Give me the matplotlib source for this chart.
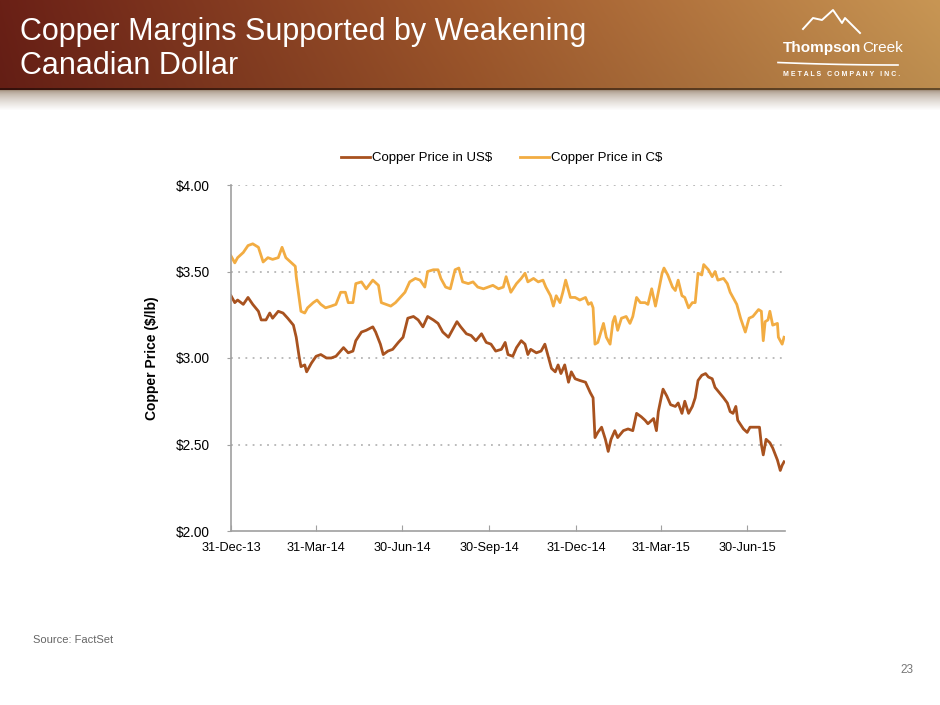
import matplotlib
matplotlib.use('Agg')
import matplotlib.pyplot as plt
import matplotlib.dates as mdates
import numpy as np
import pandas as pd

plt.rcParams['font.family'] = ['Liberation Sans', 'DejaVu Sans']

# days since 31-Dec-13
us_days = [0, 4, 7, 13, 18, 23, 29, 32, 37, 41, 44, 50, 55, 60, 66, 69, 72, 74, 78, 80,
           85, 90, 95, 101, 106, 111, 119, 124, 129, 132, 138, 143, 150, 153, 158, 161, 166,
           171, 177, 182, 187, 193, 198, 203, 208, 214, 219, 224, 230, 235, 239, 243, 249,
           254, 259, 265, 270, 275, 280, 286, 290, 293, 298, 302, 307, 311, 314, 317, 323,
           328, 332, 335, 339, 343, 346, 349, 353, 357, 360, 364, 369, 375, 380, 383, 385,
           388, 392, 396, 399, 402, 406, 409, 415, 420, 425, 429, 434, 438, 441, 447, 450,
           452, 455, 457, 461, 465, 470, 473, 477, 480, 484, 488, 491, 494, 498, 502, 505,
           509, 512, 515, 521, 525, 528, 531, 534, 536, 542, 546, 549, 554, 559, 561, 563,
           566, 570, 573, 578, 581, 583, 585]
us_price = [3.36, 3.32, 3.335, 3.31, 3.35, 3.31, 3.27, 3.22, 3.22, 3.26, 3.23, 3.27, 3.26,
            3.23, 3.19, 3.12, 3.01, 2.95, 2.96, 2.92, 2.97, 3.01, 3.02, 3.00, 3.00, 3.01,
            3.06, 3.03, 3.04, 3.10, 3.15, 3.16, 3.18, 3.15, 3.08, 3.02, 3.04, 3.05, 3.09,
            3.12, 3.23, 3.24, 3.22, 3.18, 3.24, 3.22, 3.20, 3.15, 3.12, 3.17, 3.21, 3.18,
            3.14, 3.13, 3.10, 3.14, 3.09, 3.08, 3.04, 3.05, 3.09, 3.02, 3.01, 3.06, 3.10,
            3.08, 3.02, 3.05, 3.03, 3.04, 3.08, 3.02, 2.94, 2.92, 2.96, 2.91, 2.96, 2.86,
            2.92, 2.88, 2.87, 2.86, 2.80, 2.77, 2.54, 2.57, 2.60, 2.53, 2.46, 2.53, 2.58,
            2.54, 2.58, 2.59, 2.58, 2.68, 2.66, 2.64, 2.62, 2.65, 2.58, 2.69, 2.77, 2.82,
            2.78, 2.73, 2.72, 2.74, 2.68, 2.75, 2.68, 2.72, 2.77, 2.87, 2.90, 2.91, 2.89,
            2.88, 2.83, 2.81, 2.77, 2.74, 2.69, 2.68, 2.72, 2.64, 2.59, 2.57, 2.60, 2.60,
            2.60, 2.50, 2.44, 2.53, 2.51, 2.48, 2.41, 2.35, 2.38, 2.40]

cad_days = [0, 4, 7, 13, 18, 23, 29, 34, 39, 44, 50, 54, 58, 63, 68, 69, 72, 74, 78, 81,
            87, 91, 95, 100, 106, 111, 116, 121, 124, 129, 132, 138, 143, 150, 156, 159,
            164, 169, 174, 179, 184, 189, 195, 200, 205, 208, 214, 219, 222, 227, 232, 237,
            241, 245, 251, 256, 261, 267, 272, 277, 283, 288, 291, 296, 302, 307, 311, 314,
            320, 325, 330, 333, 338, 341, 344, 348, 351, 354, 359, 364, 369, 375, 378, 381,
            383, 385, 388, 394, 397, 401, 404, 406, 409, 413, 418, 422, 425, 429, 433, 438,
            441, 445, 449, 452, 456, 458, 462, 467, 470, 473, 477, 480, 484, 488, 491, 494,
            498, 500, 505, 509, 512, 515, 521, 525, 528, 531, 535, 539, 544, 548, 552, 558,
            561, 563, 565, 568, 570, 573, 578, 579, 583, 585]
cad_price = [3.59, 3.55, 3.58, 3.61, 3.65, 3.66, 3.64, 3.555, 3.58, 3.57, 3.58, 3.64, 3.58,
             3.555, 3.53, 3.47, 3.35, 3.27, 3.26, 3.29, 3.32, 3.335, 3.31, 3.29, 3.30, 3.31,
             3.38, 3.38, 3.32, 3.32, 3.43, 3.44, 3.40, 3.45, 3.42, 3.32, 3.31, 3.30, 3.32,
             3.35, 3.38, 3.44, 3.46, 3.45, 3.41, 3.50, 3.51, 3.51, 3.46, 3.41, 3.40, 3.51,
             3.52, 3.44, 3.43, 3.44, 3.41, 3.40, 3.41, 3.42, 3.40, 3.41, 3.47, 3.38, 3.43,
             3.46, 3.49, 3.44, 3.46, 3.44, 3.45, 3.41, 3.36, 3.30, 3.36, 3.32, 3.38, 3.45,
             3.35, 3.35, 3.335, 3.35, 3.31, 3.32, 3.29, 3.08, 3.09, 3.20, 3.12, 3.08, 3.21,
             3.24, 3.16, 3.23, 3.24, 3.20, 3.24, 3.35, 3.32, 3.32, 3.31, 3.40, 3.30, 3.38,
             3.49, 3.52, 3.48, 3.41, 3.39, 3.45, 3.36, 3.35, 3.29, 3.32, 3.32, 3.49, 3.48,
             3.54, 3.51, 3.47, 3.50, 3.45, 3.46, 3.43, 3.38, 3.35, 3.31, 3.23, 3.15, 3.23,
             3.24, 3.28, 3.27, 3.10, 3.21, 3.22, 3.27, 3.19, 3.20, 3.12, 3.08, 3.12]

tick_dates = ['2013-12-31', '2014-03-31', '2014-06-30', '2014-09-30',
              '2014-12-31', '2015-03-31', '2015-06-30']
y_ticks = [2.0, 2.5, 3.0, 3.5, 4.0]

start = pd.Timestamp('2013-12-31')
us_dates = start + pd.to_timedelta(us_days, unit='D')
cad_dates = start + pd.to_timedelta(cad_days, unit='D')

fig = plt.figure(figsize=(9.4, 7.05), dpi=100)

# background header band
bg = fig.add_axes([0, 0, 1, 1], zorder=-5)
bg.set_xlim(0, 940)
bg.set_ylim(705, 0)
bg.axis('off')
W, H = 940, 110
xs = np.linspace(0, 1, W)
stops = [0.0, 0.5, 1.0]
cols = np.array([[106, 32, 22], [160, 88, 44], [200, 150, 84]]) / 255.0
row = np.stack([np.interp(xs, stops, cols[:, k]) for k in range(3)], axis=1)
img = np.ones((H, W, 3))
band_h = 88
for r in range(band_h):
    img[r] = row * (1.0 - 0.06 * (r / band_h))
img[band_h:band_h + 2] = row * 0.5
for r in range(band_h + 2, H):
    t = (r - band_h - 2) / (H - band_h - 2)
    base = np.array([0.64, 0.57, 0.50])
    img[r] = base + (1 - base) * t ** 0.6
bg.imshow(img, extent=(0, W, H, 0), aspect='auto', interpolation='bilinear')

# title
bg.text(20, 40, 'Copper Margins Supported by Weakening', color='white', fontsize=22,
        va='baseline', ha='left')
bg.text(20, 74, 'Canadian Dollar', color='white', fontsize=22, va='baseline', ha='left')

# logo
mx = [803, 813, 822, 833, 842, 845, 860]
my = [29, 18, 20, 10, 23, 18, 33]
bg.plot(mx, my, color='white', lw=1.4)
t1 = bg.text(783, 52, 'Thompson', color='white', fontsize=11, fontweight='bold',
             va='baseline')
fig.canvas.draw()
ext = t1.get_window_extent()
bg.text(ext.x1 + 0.5, 52, 'Creek', color='white', fontsize=11, va='baseline')
sx = np.linspace(778, 898, 30)
bg.plot(sx, 63.5 - 2.5 * (1 - (sx - 778) / 120) ** 2 + 1.5, color='white', lw=1.2)
bg.text(783, 76, 'M E T A L S   C O M P A N Y   I N C .', color='white', fontsize=5,
        fontweight='bold', va='baseline')

# chart
us_color = '#a8521f'
cad_color = '#f2ac42'
ax = fig.add_axes([231 / 940, 1 - 531 / 705, (785 - 231) / 940, (531 - 185) / 705])
ax.plot(us_dates, us_price, color=us_color, lw=2.0, label='Copper Price in US$')
ax.plot(cad_dates, cad_price, color=cad_color, lw=2.0, label='Copper Price in C$')

ax.set_xlim(start, start + pd.Timedelta(days=586))
ax.set_ylim(2.0, 4.0)
ax.set_yticks(y_ticks)
ax.set_yticklabels([f'${v:.2f}' for v in y_ticks])
ax.set_xticks(pd.to_datetime(tick_dates))
ax.xaxis.set_major_formatter(mdates.DateFormatter('%d-%b-%y'))
for v in y_ticks[1:]:
    ax.axhline(v, color='#b5b5b5', lw=1.3, ls=(0, (1, 3)), zorder=0)

for s in ['top', 'right']:
    ax.spines[s].set_visible(False)
for s in ['left', 'bottom']:
    ax.spines[s].set_color('#a0a0a0')
    ax.spines[s].set_linewidth(1.2)
ax.tick_params(axis='x', direction='in', length=4, color='#a0a0a0', labelsize=9.2,
               pad=8, labelcolor='black')
ax.tick_params(axis='y', direction='out', length=3, color='#a0a0a0', labelsize=9.8,
               pad=12, labelcolor='black')
ax.set_ylabel('Copper Price ($/lb)', fontsize=10, fontweight='bold', labelpad=12)

fig.legend(loc='center', bbox_to_anchor=(0.534, 1 - 158 / 705), ncol=2, frameon=False,
           fontsize=9.5, handlelength=2.2, handletextpad=0.15, columnspacing=2.1)

fig.text(33 / 940, 1 - 640 / 705, 'Source: FactSet', fontsize=8, color='#666666',
         va='center', ha='left')
fig.text(913 / 940, 1 - 670 / 705, '23', fontsize=8.5, color='#777777', va='center',
         ha='right')

fig.savefig('out.png', dpi=100)
